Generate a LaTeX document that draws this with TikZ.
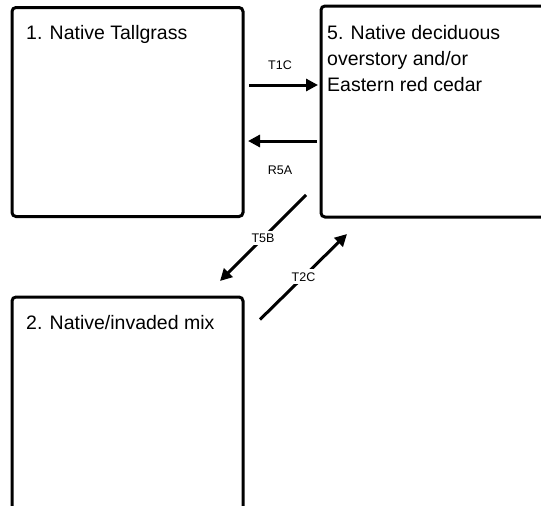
\documentclass[tikz,border=0pt]{standalone}
\usepackage{fontspec}
\setmainfont{Liberation Sans}
\usetikzlibrary{arrows.meta}
\begin{document}
\begin{tikzpicture}[x=1pt,y=-1pt,
  statebox/.style={draw=black,line width=3pt,rounded corners=4pt,inner sep=0pt,fill=white},
  title/.style={font=\fontsize{19.5}{26}\selectfont,align=left,inner sep=0pt,anchor=base west},
  arr/.style={line width=3pt,-{Triangle[length=12pt,width=12pt]}},
  lab/.style={font=\fontsize{12.5}{14}\selectfont,inner sep=0pt},
  gaplab/.style={font=\fontsize{12.5}{14}\selectfont,fill=white,inner sep=3pt}]
\useasboundingbox (0,0) rectangle (541,506);
\fill[white] (0,0) rectangle (541,506);
\clip (0,0) rectangle (541,506);
% boxes
\node[statebox,minimum width=231pt,minimum height=209pt] (b1) at (127.5,112) {};
\node[statebox,minimum width=240pt,minimum height=211pt] (b5) at (441,111.5) {};
\node[statebox,minimum width=231pt,minimum height=240pt] (b2) at (127.5,417) {};
% titles
\node[title] (t1) at (26,39) {1. Native Tallgrass};
\node[title] (t5) at (327,91) {5. Native deciduous\\overstory and/or\\Eastern red cedar};
\node[title] (t2) at (26,329) {2. Native/invaded mix};
% connector end points
\coordinate (a1s) at (249,85);
\coordinate (a1e) at (318,85);
\coordinate (a2s) at (317,141);
\coordinate (a2e) at (248,141);
\coordinate (a3s) at (306,195);
\coordinate (a3e) at (220,281);
\coordinate (a4s) at (260,319.5);
\coordinate (a4e) at (347,234);
\draw[arr] (a1s) -- (a1e);
\draw[arr] (a2s) -- (a2e);
\draw[arr] (a3s) -- node[gaplab] (l3) {T5B} (a3e);
\draw[arr] (a4s) -- node[gaplab] (l4) {T2C} (a4e);
\node[lab] (l1) at (280,65.5) {T1C};
\node[lab] (l2) at (280,170) {R5A};
\end{tikzpicture}
\end{document}
